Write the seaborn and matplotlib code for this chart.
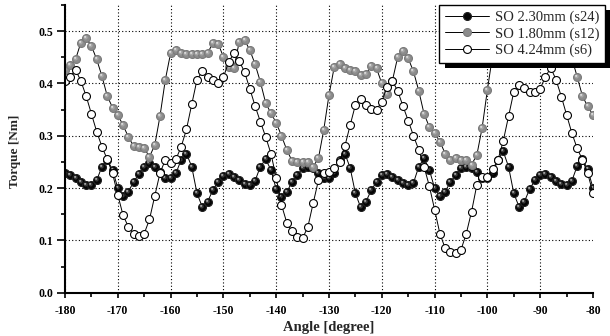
import numpy as np
import pandas as pd
import matplotlib
matplotlib.use("Agg")
import matplotlib.pyplot as plt
import seaborn as sns
from matplotlib.path import Path
from matplotlib.patches import Rectangle
from matplotlib.ticker import MultipleLocator

# ---------------- data ----------------
angle = list(range(-180, -79))

torque_s24 = [
    0.228, 0.225, 0.219, 0.212, 0.206, 0.206, 0.215, 0.241, 0.254, 0.235,
    0.200, 0.184, 0.193, 0.212, 0.227, 0.241, 0.247, 0.241, 0.231, 0.219,
    0.219, 0.228, 0.254, 0.266, 0.241, 0.190, 0.164, 0.174, 0.196, 0.212,
    0.223, 0.227, 0.222, 0.215, 0.208, 0.205, 0.214, 0.241, 0.255, 0.235,
    0.198, 0.182, 0.193, 0.211, 0.225, 0.238, 0.241, 0.238, 0.229, 0.219,
    0.219, 0.228, 0.254, 0.266, 0.239, 0.190, 0.163, 0.174, 0.196, 0.212,
    0.225, 0.227, 0.222, 0.215, 0.209, 0.206, 0.210, 0.241, 0.257, 0.235,
    0.200, 0.184, 0.193, 0.212, 0.225, 0.238, 0.241, 0.238, 0.231, 0.220,
    0.220, 0.228, 0.254, 0.270, 0.241, 0.190, 0.164, 0.174, 0.198, 0.215,
    0.225, 0.227, 0.222, 0.214, 0.208, 0.206, 0.214, 0.242, 0.255, 0.236,
    0.200,
]

torque_s12 = [
    0.426, 0.435, 0.446, 0.478, 0.486, 0.472, 0.446, 0.414, 0.376, 0.354,
    0.340, 0.320, 0.298, 0.280, 0.279, 0.276, 0.260, 0.282, 0.338, 0.407,
    0.458, 0.464, 0.458, 0.457, 0.457, 0.456, 0.456, 0.458, 0.477, 0.476,
    0.451, 0.432, 0.429, 0.480, 0.483, 0.464, 0.437, 0.403, 0.363, 0.343,
    0.325, 0.300, 0.273, 0.252, 0.250, 0.250, 0.250, 0.241, 0.257, 0.311,
    0.378, 0.432, 0.437, 0.429, 0.426, 0.424, 0.416, 0.418, 0.433, 0.429,
    0.400, 0.380, 0.405, 0.450, 0.462, 0.448, 0.423, 0.386, 0.342, 0.317,
    0.305, 0.289, 0.266, 0.254, 0.257, 0.254, 0.254, 0.245, 0.263, 0.315,
    0.388, 0.455, 0.470, 0.472, 0.468, 0.466, 0.466, 0.468, 0.482, 0.484,
    0.468, 0.462, 0.462, 0.486, 0.490, 0.475, 0.448, 0.413, 0.376, 0.356,
    0.340,
]

torque_s6 = [
    0.405, 0.413, 0.426, 0.405, 0.376, 0.342, 0.308, 0.279, 0.255, 0.228,
    0.187, 0.148, 0.126, 0.113, 0.108, 0.113, 0.140, 0.185, 0.229, 0.254,
    0.247, 0.255, 0.279, 0.312, 0.360, 0.407, 0.423, 0.412, 0.407, 0.400,
    0.412, 0.441, 0.458, 0.443, 0.422, 0.390, 0.357, 0.327, 0.298, 0.266,
    0.220, 0.168, 0.134, 0.117, 0.107, 0.104, 0.126, 0.171, 0.215, 0.228,
    0.231, 0.238, 0.250, 0.280, 0.320, 0.359, 0.370, 0.359, 0.352, 0.350,
    0.365, 0.394, 0.405, 0.386, 0.357, 0.329, 0.300, 0.273, 0.241, 0.204,
    0.159, 0.113, 0.085, 0.078, 0.075, 0.082, 0.113, 0.155, 0.206, 0.222,
    0.222, 0.236, 0.254, 0.290, 0.337, 0.384, 0.397, 0.391, 0.384, 0.384,
    0.390, 0.413, 0.430, 0.407, 0.375, 0.340, 0.305, 0.276, 0.254, 0.228,
    0.190,
]

series_labels = ["SO 2.30mm (s24)", "SO 1.80mm (s12)", "SO 4.24mm (s6)"]
x_ticks = [-180, -170, -160, -150, -140, -130, -120, -110, -100, -90, -80]
y_ticks = [0.0, 0.1, 0.2, 0.3, 0.4, 0.5]
x_label = "Angle [degree]"
y_label = "Torque [Nm]"

# ---------------- style ----------------
sns.set_style("ticks")
plt.rcParams["font.family"] = ["Liberation Serif", "DejaVu Serif"]

W, H, DPI = 6.10, 3.36, 100
fig = plt.figure(figsize=(W, H), dpi=DPI)
ax = fig.add_axes([65 / 610, 1 - 292.7 / 336, (593 - 65) / 610, (292.7 - 5) / 336])


def spot(cx, cy, r):
    """marker path: a small disc placed inside the unit marker box"""
    circ = Path.circle((cx, cy), r)
    verts = np.concatenate([[[-1.0, -1.0], [1.0, 1.0]], circ.vertices])
    codes = np.concatenate([[Path.MOVETO, Path.MOVETO], circ.codes])
    return Path(verts, codes)


ms = 5.7
series = [
    (torque_s24, "#050505", "#202020", [("#3c3c3c", spot(-0.2, 0.25, 0.5)), ("#b0b0b0", spot(-0.35, 0.4, 0.24))]),
    (torque_s12, "#8c8c8c", "#7a7a7a", [("#a8a8a8", spot(-0.2, 0.25, 0.5)), ("#e2e2e2", spot(-0.35, 0.4, 0.24))]),
    (torque_s6, "white", "black", []),
]

handles = []
for (vals, face, edge, spots), lab in zip(series, series_labels):
    df = pd.DataFrame({"angle": angle, "torque": vals})
    sns.lineplot(data=df, x="angle", y="torque", ax=ax, color="black", sort=False,
                 linewidth=0.7, marker="o", markersize=ms,
                 markerfacecolor=face, markeredgecolor=edge, markeredgewidth=0.8,
                 label=lab, legend=False)
    handles.append(ax.lines[-1])
    for col, pth in spots:
        sns.lineplot(data=df, x="angle", y="torque", ax=ax, sort=False,
                     linestyle="", marker=pth, markersize=ms,
                     markerfacecolor=col, markeredgewidth=0, color=col,
                     legend=False)

ax.set_xlim(-180, -80)
ax.set_ylim(0.0, 0.55)
ax.set_xticks(x_ticks)
ax.set_yticks(y_ticks)
ax.set_xticklabels([str(t) for t in x_ticks])
ax.set_yticklabels([f"{t:.1f}" for t in y_ticks])
ax.xaxis.set_minor_locator(MultipleLocator(5))
ax.yaxis.set_minor_locator(MultipleLocator(0.05))

for side in ["top", "right"]:
    ax.spines[side].set_visible(False)
for side in ["left", "bottom"]:
    ax.spines[side].set_linewidth(1.5)
    ax.spines[side].set_color("black")

ax.tick_params(axis="both", which="major", direction="out", width=1.2, color="black",
               labelsize=8.5, labelcolor="black")
ax.tick_params(axis="y", which="major", length=5.5, pad=3)
ax.tick_params(axis="x", which="major", length=3.5, pad=5)
ax.tick_params(axis="both", which="minor", direction="out", length=2.8, width=1.2, color="black")
for t in ax.get_xticklabels() + ax.get_yticklabels():
    t.set_fontweight("bold")

ax.grid(True, which="major", color="black", linestyle=(0, (1, 2)), linewidth=0.8)
ax.set_axisbelow(True)
# no dotted grid line on the right edge / bottom edge
ax.get_xgridlines()[-1].set_visible(False)
ax.get_ygridlines()[0].set_visible(False)

ax.set_xlabel(x_label, fontsize=10.5, fontweight="bold", labelpad=3)
ax.set_ylabel(y_label, fontsize=9.5, fontweight="bold")
ax.yaxis.set_label_coords(-0.083, 0.49)

leg = ax.legend(handles, series_labels, loc="upper right",
                bbox_to_anchor=(605 / 610, 1 - 5 / 336), bbox_transform=fig.transFigure,
                frameon=True, fancybox=False, framealpha=1, edgecolor="black",
                borderaxespad=0, borderpad=0.4, labelspacing=0.2,
                handlelength=3.0, handletextpad=0.4, numpoints=1,
                prop={"family": ["Liberation Serif"], "size": 10.5})
leg.get_frame().set_linewidth(1.0)
leg.set_zorder(6)

fig.canvas.draw()
bb = leg.get_frame().get_window_extent(fig.canvas.get_renderer())
shadow = Rectangle((bb.x0 + 6, bb.y0 - 5), bb.width, bb.height, transform=None,
                   facecolor="black", edgecolor="none", zorder=5.5, clip_on=False)
ax.add_artist(shadow)

fig.savefig("out.png", dpi=DPI, facecolor="white")
